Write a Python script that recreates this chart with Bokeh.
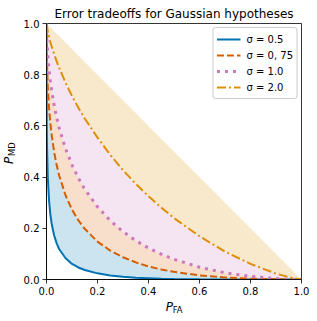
from bokeh.plotting import figure
from bokeh.models import Legend, LegendItem, FixedTicker, Range1d, NumeralTickFormatter, Div
from bokeh.layouts import row, column
from bokeh.embed import file_html
from bokeh.resources import INLINE

# ---- data ----
p_fa = [0, 0.0001, 0.001, 0.002, 0.005, 0.01, 0.015, 0.02, 0.03, 0.04, 0.05, 0.075, 0.1,
        0.125, 0.15, 0.2, 0.25, 0.3, 0.35, 0.4, 0.45, 0.5, 0.6, 0.7, 0.8, 0.9, 0.95, 0.99, 1.0]
pmd_s05 = [1, 0.81, 0.603, 0.520, 0.400, 0.308, 0.255, 0.219, 0.172, 0.141, 0.118, 0.083, 0.061,
           0.047, 0.037, 0.024, 0.016, 0.011, 0.007, 0.005, 0.003, 0.002, 0.001, 0.0004, 0.0001, 0.0, 0.0, 0.0, 0.0]
pmd_s075 = [1, 0.967, 0.886, 0.839, 0.755, 0.670, 0.612, 0.567, 0.498, 0.446, 0.405, 0.328, 0.273,
            0.231, 0.198, 0.148, 0.113, 0.087, 0.067, 0.051, 0.039, 0.030, 0.016, 0.008, 0.003, 0.001, 0.0002, 0.0, 0.0]
pmd_s10 = [1, 0.989, 0.953, 0.928, 0.877, 0.819, 0.775, 0.739, 0.680, 0.632, 0.591, 0.510, 0.448,
           0.396, 0.353, 0.284, 0.230, 0.187, 0.152, 0.123, 0.099, 0.079, 0.048, 0.026, 0.012, 0.0035, 0.0011, 0.0001, 0.0]
pmd_s20 = [1, 0.999, 0.991, 0.985, 0.969, 0.947, 0.928, 0.911, 0.880, 0.852, 0.826, 0.768, 0.717,
           0.671, 0.629, 0.554, 0.487, 0.427, 0.374, 0.325, 0.281, 0.240, 0.169, 0.109, 0.061, 0.023, 0.009, 0.001, 0.0]
chance_line = [1, 0.9999, 0.999, 0.998, 0.995, 0.99, 0.985, 0.98, 0.97, 0.96, 0.95, 0.925, 0.9,
               0.875, 0.85, 0.8, 0.75, 0.7, 0.65, 0.6, 0.55, 0.5, 0.4, 0.3, 0.2, 0.1, 0.05, 0.01, 0.0]
series_labels = ["σ = 0.5", "σ = 0, 75", "σ = 1.0", "σ = 2.0"]
tick_values = [0.0, 0.2, 0.4, 0.6, 0.8, 1.0]
title_text = "Error tradeoffs for Gaussian hypotheses"

colors = ["#0173b2", "#d55e00", "#cc78bc", "#de8f05"]
dashes = ["solid", "7 3", "3 5", "9 3 2 3"]
widths = [2, 2, 3, 2]
FONT = "DejaVu Sans"

YLAB_W = 20
FIG_W, FIG_H = 297, 299
XLAB_H = 22

p = figure(width=FIG_W, height=FIG_H, x_range=Range1d(0, 1), y_range=Range1d(0, 1),
           output_backend="svg", toolbar_location=None, title=title_text,
           min_border_left=26, min_border_right=16, min_border_top=23, min_border_bottom=20)
p.title.text_font = FONT
p.title.text_font_size = "12px"
p.title.text_font_style = "normal"
p.title.text_color = "black"
p.title.align = "center"
p.title.standoff = 5
p.grid.visible = False
p.outline_line_color = "black"
p.outline_line_width = 0.8
p.outline_line_alpha = 1.0
p.background_fill_color = "white"
p.border_fill_color = "white"

for ax in (p.xaxis[0], p.yaxis[0]):
    ax.ticker = FixedTicker(ticks=tick_values)
    ax.formatter = NumeralTickFormatter(format="0.0")
    ax.major_tick_out = 4
    ax.major_tick_in = 0
    ax.minor_tick_line_color = None
    ax.axis_line_width = 0.8
    ax.major_tick_line_width = 0.8
    ax.axis_line_color = "black"
    ax.major_tick_line_color = "black"
    ax.major_label_standoff = 3
    ax.major_label_text_font = FONT
    ax.major_label_text_font_size = "10px"
    ax.major_label_text_color = "black"

curves = [pmd_s05, pmd_s075, pmd_s10, pmd_s20]
bounds = curves[1:] + [chance_line]
for c, lo, hi in zip(colors, curves, bounds):
    p.varea(x=p_fa, y1=lo, y2=hi, fill_color=c, fill_alpha=0.2)

renderers = []
for c, y, d, w in zip(colors, curves, dashes, widths):
    r = p.line(p_fa, y, line_color=c, line_width=w, line_dash=d)
    renderers.append(r)

legend = Legend(items=[LegendItem(label=l, renderers=[r]) for l, r in zip(series_labels, renderers)],
                location="top_right", margin=4, padding=3, spacing=0,
                glyph_width=24, glyph_height=16, label_height=16, label_standoff=6,
                label_text_font=FONT, label_text_font_size="10px", label_text_color="black",
                border_line_color="#cccccc", border_line_width=1, border_line_alpha=1.0,
                background_fill_color="white", background_fill_alpha=0.8)
if "border_radius" in Legend.properties():
    legend.border_radius = 3
p.add_layout(legend)


def span(text, left, top, size, lh, italic=False, rotate=False):
    style = (f"position:absolute;left:{left}px;top:{top}px;font-family:'{FONT}';"
             f"font-size:{size}px;line-height:{lh}px;white-space:nowrap;color:black;"
             f"font-style:{'italic' if italic else 'normal'};margin:0;padding:0;")
    if rotate:
        style += "transform-origin:0 0;transform:rotate(-90deg);"
    return f'<span style="{style}">{text}</span>'


# y label  P_MD  (rotated, reading upward)
ylab_html = ('<div style="position:relative;width:%dpx;height:%dpx;">' % (YLAB_W, FIG_H + XLAB_H)
             + span("P", 3.3, 163.5, 12, 12, italic=True, rotate=True)
             + span("MD", 8.4, 156.4, 8.4, 8.4, rotate=True)
             + "</div>")
ylab = Div(text=ylab_html, width=YLAB_W, height=FIG_H + XLAB_H, margin=0)

# x label  P_FA
xlab_html = ('<div style="position:relative;width:%dpx;height:%dpx;">' % (FIG_W, XLAB_H)
             + span("P", 145.7, 1.5, 12, 12, italic=True)
             + span("FA", 152.8, 6.6, 8.4, 8.4)
             + "</div>")
xlab = Div(text=xlab_html, width=FIG_W, height=XLAB_H, margin=0)

layout = row(ylab, column(p, xlab, spacing=0), spacing=0)

open("out.html", "w").write(file_html(layout, INLINE))
